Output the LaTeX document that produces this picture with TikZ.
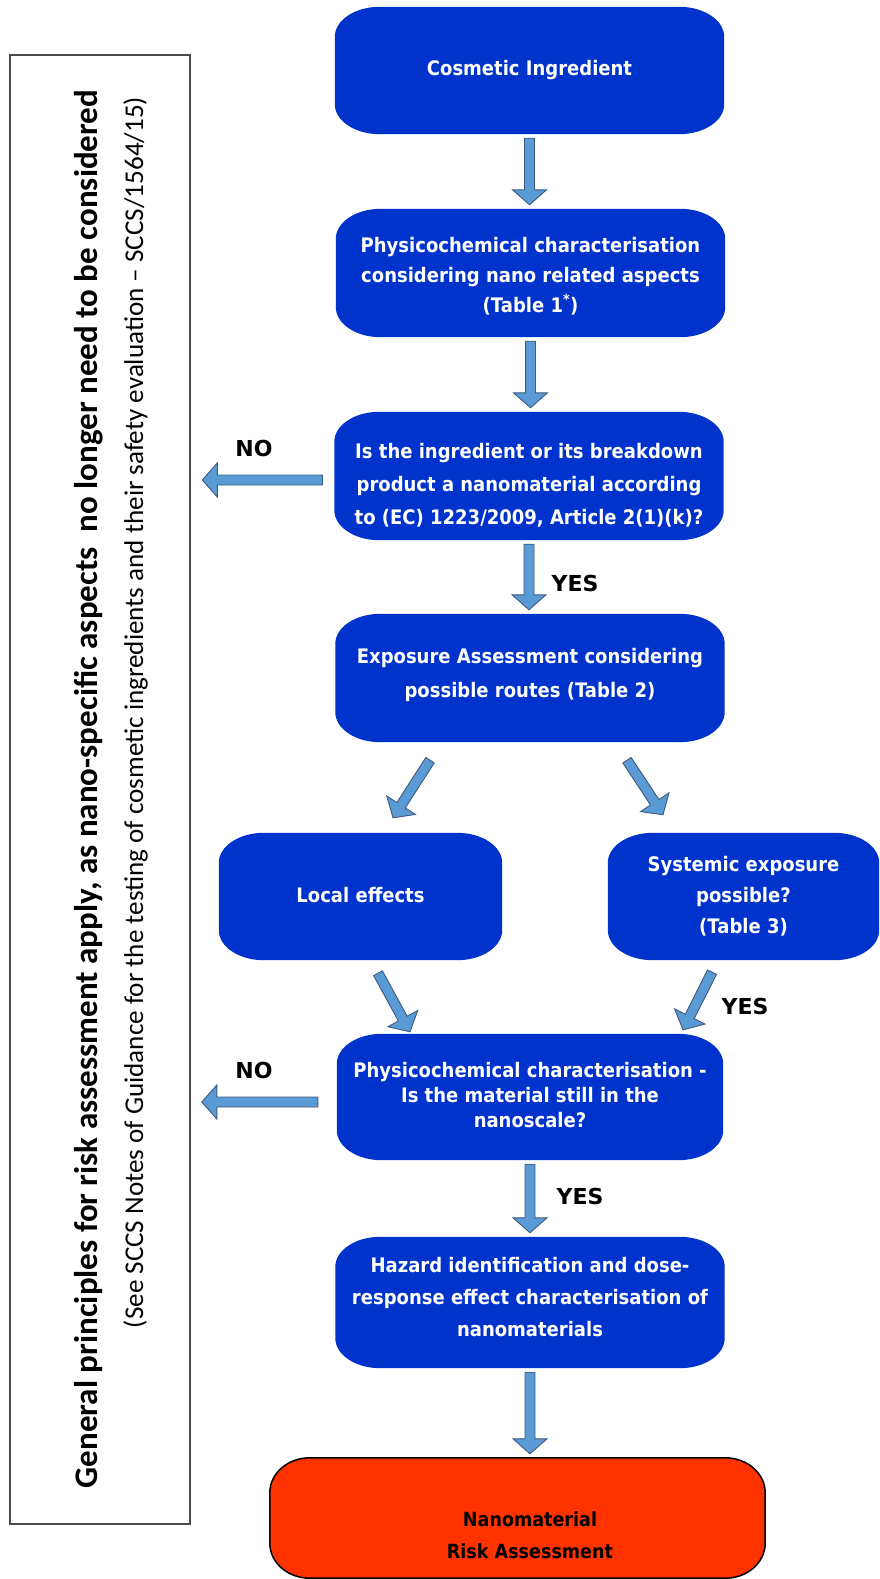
\documentclass[tikz,border=0pt]{standalone}
\usepackage{fontspec}
\usetikzlibrary{calc,backgrounds}
\newfontfamily\boxfont[FakeStretch=0.9]{DejaVu Sans}
\newfontfamily\labfont{DejaVu Sans}
\newfontfamily\calfont{Carlito}
\definecolor{boxblue}{HTML}{0033CC}
\definecolor{arrowfill}{HTML}{5B9BD5}
\definecolor{arrowline}{HTML}{3C5A80}
\definecolor{riskred}{HTML}{FF3300}
\definecolor{framegray}{HTML}{4A4A4A}
\newcommand\ovalbox[4]{%
  \path[#2] let \p1=(#1.north west), \p2=(#1.south east) in
    ({\x1+#3},\y1) -- ({\x2-#3},\y1)
    arc[start angle=90,end angle=0,x radius=#3,y radius=#4]
    -- (\x2,{\y2+#4})
    arc[start angle=0,end angle=-90,x radius=#3,y radius=#4]
    -- ({\x1+#3},\y2)
    arc[start angle=270,end angle=180,x radius=#3,y radius=#4]
    -- (\x1,{\y1-#4})
    arc[start angle=180,end angle=90,x radius=#3,y radius=#4]
    -- cycle;}
% lines of a box text, lifted by #1
\newcommand\btxt[2]{\raisebox{#1}[\height][\depth]{\begin{tabular}{@{}c@{}}#2\end{tabular}}}
\newcommand\bsize[1]{\fontsize{20}{#1}\selectfont}
\tikzset{
  bnode/.style={inner sep=0pt, text=white,
    minimum width=389pt, minimum height=127pt,
    font=\boxfont\bfseries\bsize{30}},
  lab/.style={inner sep=0pt, font=\labfont\bfseries\fontsize{22}{26}\selectfont},
  bluefill/.style={fill=boxblue},
  redfill/.style={fill=riskred, draw=black, line width=1.5pt},
  barrow/.style={fill=arrowfill, draw=arrowline, line width=0.9pt, line join=miter,
    to path={
      let \p1=($(\tikztostart)!4pt!(\tikztotarget)$),
          \p2=($(\tikztotarget)!4pt!(\tikztostart)$),
          \p3=($(\p2)!15pt!(\p1)$) in
      ($(\p1)!5pt!90:(\p2)$) -- ($(\p3)!5pt!90:(\p2)$) -- ($(\p3)!17pt!90:(\p2)$)
      -- (\p2) -- ($(\p3)!17pt!-90:(\p2)$) -- ($(\p3)!5pt!-90:(\p2)$)
      -- ($(\p1)!5pt!-90:(\p2)$) -- cycle}}
}
\begin{document}
\begin{tikzpicture}[x=1pt,y=-1pt]
\useasboundingbox (0,0) rectangle (880,1579);

% left frame and rotated texts
\draw[framegray, line width=2pt] (10,55) rectangle (190,1524);
\node[rotate=90, anchor=base, inner sep=0pt] (gp) at (97,789)
  {\resizebox{1398pt}{!}{\calfont\bfseries General principles for risk assessment apply, as nano-specific aspects\ \ no longer need to be considered}};
\node[rotate=90, anchor=base, inner sep=0pt] (gs) at (143,712.5)
  {\resizebox{1231pt}{!}{\calfont (See SCCS Notes of Guidance for the testing of cosmetic ingredients and their safety evaluation – SCCS/1564/15)}};

% flow boxes
\node[bnode] (cos) at (529.5,70.5) {\btxt{1pt}{Cosmetic Ingredient}};
\node[bnode, minimum height=128pt] (ph1) at (530.5,273)
  {\btxt{-3pt}{Physicochemical characterisation\\considering nano related aspects\\(Table 1\textsuperscript{*})}};
\node[bnode, minimum height=128pt, font=\boxfont\bfseries\bsize{33}] (isb) at (529,476)
  {\btxt{-9pt}{Is the ingredient or its breakdown\\product a nanomaterial according\\to (EC) 1223/2009, Article 2(1)(k)?}};
\node[bnode, minimum height=128pt, font=\boxfont\bfseries\bsize{34}] (expo) at (530,678)
  {\btxt{4pt}{Exposure Assessment considering\\possible routes (Table 2)}};
\node[bnode, minimum width=283pt] (loc) at (360.5,896.5) {\btxt{0pt}{Local effects}};
\node[bnode, minimum width=271pt, font=\boxfont\bfseries\bsize{31}] (sys) at (743.5,896.5)
  {\btxt{0pt}{Systemic exposure\\possible?\\(Table 3)}};
\node[bnode, minimum width=386pt, minimum height=126pt, font=\boxfont\bfseries\bsize{25}] (ph2) at (530,1097)
  {\btxt{0pt}{Physicochemical characterisation -\\Is the material still in the\\nanoscale?}};
\node[bnode, minimum height=131pt, font=\boxfont\bfseries\bsize{32}] (hz) at (530,1302.5)
  {\btxt{4pt}{Hazard identification and dose-\\response effect characterisation of\\nanomaterials}};
\node[bnode, text=black, minimum width=495pt, minimum height=120pt, font=\boxfont\bfseries\fontsize{19.5}{32}\selectfont] (risk) at (517.5,1518)
  {\hspace*{25pt}\btxt{-18pt}{Nanomaterial\\Risk Assessment}};

\begin{scope}[on background layer]
  \foreach \bx in {cos,ph1,isb,expo,loc,sys,ph2,hz}{\ovalbox{\bx}{bluefill}{45pt}{30pt}}
  \ovalbox{risk}{redfill}{40pt}{35pt}
\end{scope}

% labels
\node[lab] (no1) at (254,448) {NO};
\node[lab] (no2) at (254,1070) {NO};
\node[lab] (yes1) at (575,583) {YES};
\node[lab] (yes2) at (745,1006) {YES};
\node[lab] (yes3) at (580,1196) {YES};

% arrows
\draw[barrow] (cos.south) to (cos.south |- ph1.north);
\draw[barrow] (ph1.south) to (ph1.south |- isb.north);
\draw[barrow] (isb.south) to (isb.south |- expo.north);
\draw[barrow] (ph2.south) to (ph2.south |- hz.north);
\draw[barrow] (hz.south) to (hz.south |- risk.north);
\draw[barrow] ($(isb.west)+(-8,4)$) to ($(isb.west)+(-136,4)$);
\draw[barrow] ($(ph2.west)+(-15,5)$) to ($(ph2.west)+(-139,5)$);
\draw[barrow] ($(expo.south)+(-97.8,14.6)$) to ($(loc.north)+(30.3,-11.6)$);
\draw[barrow] ($(expo.south)+(94.8,14.7)$) to ($(sys.north)+(-78.3,-14.7)$);
\draw[barrow] ($(loc.south)+(15.6,9.5)$) to ($(ph2.north)+(-118.1,1.5)$);
\draw[barrow] ($(sys.south)+(-29.7,8.4)$) to ($(ph2.north)+(151.2,-0.4)$);
\end{tikzpicture}
\end{document}
